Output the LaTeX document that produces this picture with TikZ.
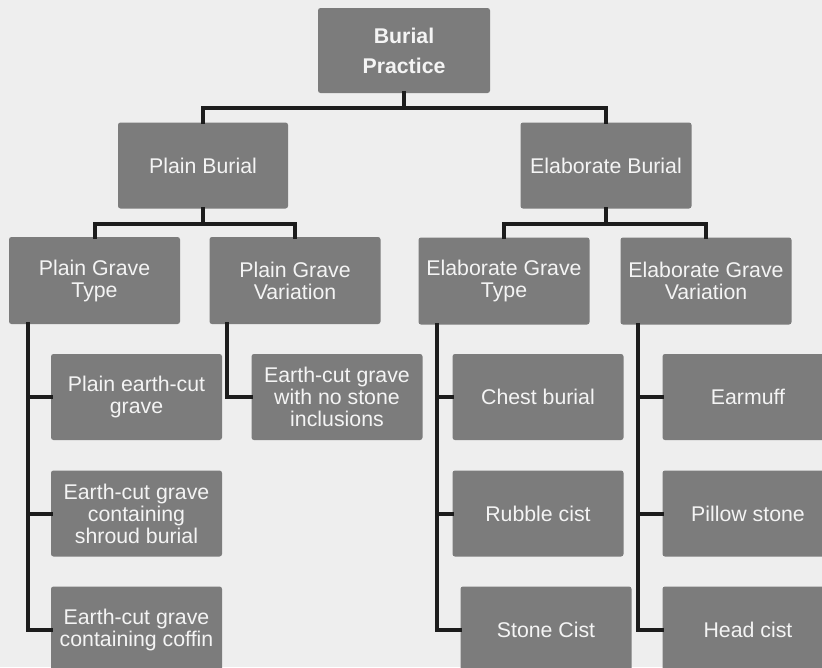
\documentclass[tikz,border=0pt]{standalone}
\usepackage{fontspec}
\setmainfont{Liberation Sans}
\definecolor{bgc}{RGB}{238,238,238}
\definecolor{boxc}{RGB}{124,124,124}
\definecolor{txtc}{RGB}{244,244,244}
\definecolor{linec}{RGB}{28,28,28}
\tikzset{
  box/.style={draw=none, fill=boxc, rounded corners=2.5pt, minimum width=171pt, minimum height=86pt,
    inner sep=0pt, align=center, text=txtc, font=\fontsize{21.3}{22}\selectfont},
  conn/.style={draw=linec, line width=4pt, line join=miter, line cap=rect}
}
\begin{document}
\begin{tikzpicture}[x=1pt,y=-1pt]
\fill[bgc] (0,0) rectangle (822,667);
\useasboundingbox (0,0) rectangle (822,667);
\clip (0,0) rectangle (822,667);
% nodes
\node[box, minimum width=172pt, minimum height=85pt, font=\fontsize{21.3}{30}\selectfont\bfseries] (root) at (404,50.5) {Burial\\Practice};
\node[box, minimum width=170pt] (pb) at (203,165.5) {Plain Burial};
\node[box] (eb) at (606,165.5) {Elaborate Burial};
\node[box, minimum height=87pt] (pgt) at (94.5,280.5) {Plain Grave\\Type};
\node[box, minimum height=87pt] (pgv) at (295,280.5) {Plain Grave\\Variation};
\node[box, minimum height=87pt] (egt) at (504,281) {Elaborate Grave\\Type};
\node[box, minimum height=87pt] (egv) at (706,281) {Elaborate Grave\\Variation};
\node[box] (l1) at (136.5,397) {Plain earth-cut\\grave};
\node[box] (l2) at (136.5,513.5) {Earth-cut grave\\containing\\shroud burial};
\node[box] (l3) at (136.5,629.5) {Earth-cut grave\\containing coffin};
\node[box] (v1) at (337,397) {Earth-cut grave\\with no stone\\inclusions};
\node[box] (e1) at (538,397) {Chest burial};
\node[box] (e2) at (538,513.5) {Rubble cist};
\node[box] (e3) at (546,629.5) {Stone Cist};
\node[box] (r1) at (748,397) {Earmuff};
\node[box] (r2) at (748,513.5) {Pillow stone};
\node[box] (r3) at (748,629.5) {Head cist};
% connectors
\draw[conn] (root.south) -- ++(0,15) -| (pb.north);
\draw[conn] (root.south) -- ++(0,15) -| (eb.north);
\draw[conn] (pb.south) -- ++(0,15) -| (pgt.north);
\draw[conn] (pb.south) -- ++(0,15) -| (pgv.north);
\draw[conn] (eb.south) -- ++(0,15) -| (egt.north);
\draw[conn] (eb.south) -- ++(0,15) -| (egv.north);
\coordinate (t1) at ([xshift=19pt]pgt.south west);
\coordinate (t2) at ([xshift=18pt]pgv.south west);
\coordinate (t3) at ([xshift=19pt]egt.south west);
\coordinate (t4) at ([xshift=18pt]egv.south west);
\draw[conn] (t1) |- (l1.west);
\draw[conn] (t1) |- (l2.west);
\draw[conn] (t1) |- (l3.west);
\draw[conn] (t2) |- (v1.west);
\draw[conn] (t3) |- (e1.west);
\draw[conn] (t3) |- (e2.west);
\draw[conn] (t3) |- (e3.west);
\draw[conn] (t4) |- (r1.west);
\draw[conn] (t4) |- (r2.west);
\draw[conn] (t4) |- (r3.west);
\end{tikzpicture}
\end{document}
